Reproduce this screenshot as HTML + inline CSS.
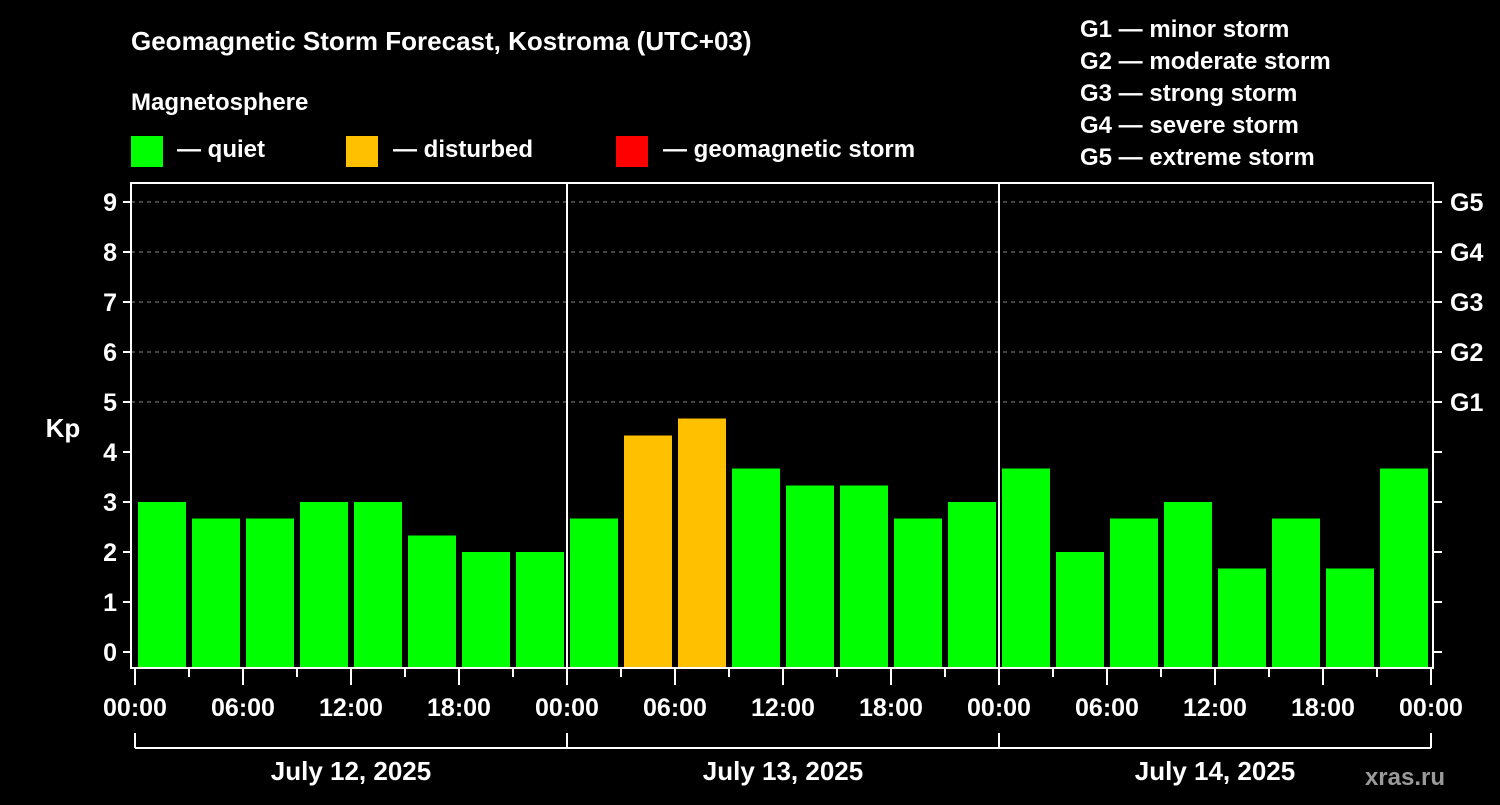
<!DOCTYPE html>
<html><head><meta charset="utf-8"><style>
body{margin:0;background:#000;}
svg text{font-family:"Liberation Sans",Arial,sans-serif;font-weight:bold;fill:#fff;}
</style></head><body>
<svg id="chart" width="1500" height="800" viewBox="0 0 1500 800" xmlns="http://www.w3.org/2000/svg">
<rect width="1500" height="800" fill="#000"/>
<text x="131" y="50" font-size="26">Geomagnetic Storm Forecast, Kostroma (UTC+03)</text>
<text x="131" y="110" font-size="24">Magnetosphere</text>
<g><rect x="131" y="136" width="32" height="31" fill="#00ff00"/><text x="177" y="157" font-size="24">— quiet</text></g>
<g><rect x="346" y="136" width="32" height="31" fill="#ffc000"/><text x="393" y="157" font-size="24">— disturbed</text></g>
<g><rect x="616" y="136" width="32" height="31" fill="#ff0000"/><text x="663" y="157" font-size="24">— geomagnetic storm</text></g>
<g font-size="24">
<text x="1080" y="37">G1 — minor storm</text>
<text x="1080" y="69">G2 — moderate storm</text>
<text x="1080" y="101">G3 — strong storm</text>
<text x="1080" y="133">G4 — severe storm</text>
<text x="1080" y="165">G5 — extreme storm</text>
</g>
<text x="63" y="437" font-size="26" text-anchor="middle">Kp</text>
<text x="1445" y="785" font-size="24" fill="#999" style="fill:#9a9a9a" text-anchor="end">xras.ru</text>
<g id="grid"></g><g id="bars"></g><g id="axes"></g>
</svg>
<script>
const days = ["July 12, 2025","July 13, 2025","July 14, 2025"];
const timeLabels = ["00:00","06:00","12:00","18:00"];
const kpValues = [3,2.67,2.67,3,3,2.33,2,2, 2.67,4.33,4.67,3.67,3.33,3.33,2.67,3, 3.67,2,2.67,3,1.67,2.67,1.67,3.67];
const yTicks = [0,1,2,3,4,5,6,7,8,9];
const gLabels = ["G1","G2","G3","G4","G5"];
const gLevels = [5,6,7,8,9];

const NS="http://www.w3.org/2000/svg";
const X0=135, SLOT=54, Y0=652, UNIT=50, TOP=183, BOT=668, LEFT=131, RIGHT=1433;
const xs=i=>X0+i*SLOT, ys=v=>Y0-v*UNIT;
function mk(tag,attrs,parent){const e=document.createElementNS(NS,tag);for(const k in attrs)e.setAttribute(k,attrs[k]);parent.appendChild(e);return e;}
const grid=document.getElementById('grid'),bars=document.getElementById('bars'),axes=document.getElementById('axes');
yTicks.forEach(v=>{
  if(v>=5){const l=mk('line',{x1:LEFT,x2:RIGHT,y1:ys(v),y2:ys(v),stroke:'#888','stroke-dasharray':'4 4','stroke-width':1},grid);
  
  }
  const t=mk('line',{x1:LEFT-8,x2:LEFT,y1:ys(v),y2:ys(v),stroke:'#fff','stroke-width':2},axes);
  
  
  const r=mk('line',{x1:RIGHT,x2:RIGHT+9,y1:ys(v),y2:ys(v),stroke:'#fff','stroke-width':2},axes);
  
  
  const tx=mk('text',{x:LEFT-14,y:ys(v)+9,'font-size':25,'text-anchor':'end'},axes);tx.textContent=v;
  
  
});
gLabels.forEach((g,i)=>{const tx=mk('text',{x:1450,y:ys(gLevels[i])+9,'font-size':25},axes);tx.textContent=g;
  
  });
kpValues.forEach((v,i)=>{
  const col=v>=5?'#ff0000':(v>=4?'#ffc000':'#00ff00');
  const b=mk('rect',{x:xs(i)+3,y:ys(v),width:48,height:BOT-ys(v),fill:col},bars);
  
  
});
mk('rect',{x:LEFT,y:TOP,width:RIGHT-LEFT,height:BOT-TOP,fill:'none',stroke:'#fff','stroke-width':2},axes);
for(let d=1;d<days.length;d++){const l=mk('line',{x1:xs(d*8),x2:xs(d*8),y1:TOP,y2:BOT,stroke:'#fff','stroke-width':2},axes);
  
  }
for(let i=0;i<=kpValues.length;i++){
  const major=i%2===0;
  const t=mk('line',{x1:xs(i),x2:xs(i),y1:BOT,y2:major?685:677,stroke:'#fff','stroke-width':2},axes);
  
  
  if(major){const tx=mk('text',{x:xs(i),y:716,'font-size':25,'text-anchor':'middle'},axes);tx.textContent=timeLabels[(i/2)%4];
    
    }
}
mk('line',{x1:xs(0),x2:xs(24),y1:748,y2:748,stroke:'#fff','stroke-width':2},axes);
for(let d=0;d<=days.length;d++){mk('line',{x1:xs(d*8),x2:xs(d*8),y1:733,y2:748,stroke:'#fff','stroke-width':2},axes);}
days.forEach((dname,d)=>{const tx=mk('text',{x:(xs(d*8)+xs(d*8+8))/2,y:780,'font-size':26,'text-anchor':'middle'},axes);tx.textContent=dname;
  
  });
</script>
</body></html>
